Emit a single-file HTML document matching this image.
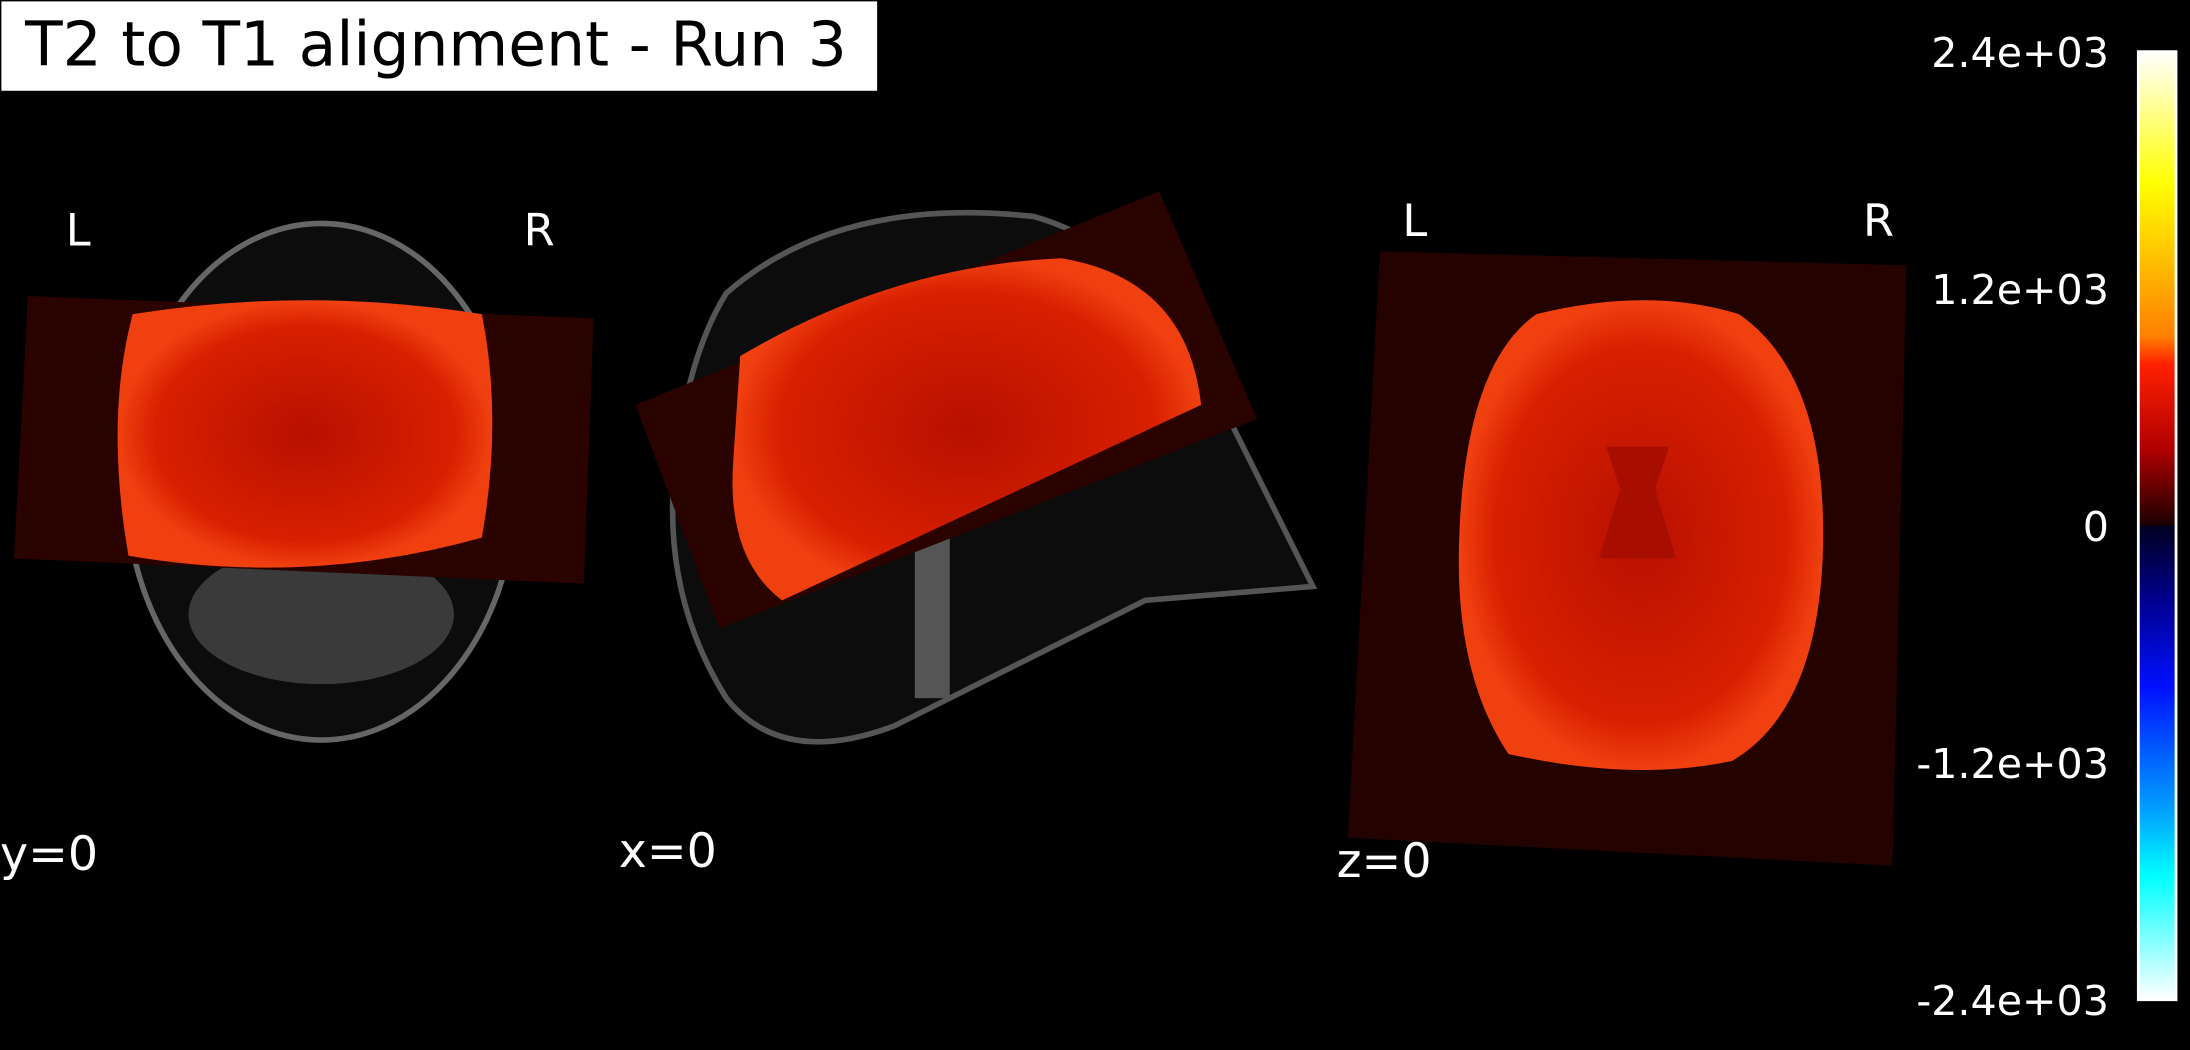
<!DOCTYPE html>
<html><head><meta charset="utf-8"><style>
html,body{margin:0;padding:0;background:#000;}
svg{display:block;}
text{font-family:"DejaVu Sans","Liberation Sans",sans-serif;fill:#fff;}
</style></head>
<body>
<svg id="fig" width="2190" height="1050" viewBox="0 0 1568 752" preserveAspectRatio="none">
<defs>
<linearGradient id="cbg" x1="0" y1="0" x2="0" y2="1">
<stop offset="0" stop-color="#ffffff"/><stop offset="0.14" stop-color="#ffff00"/><stop offset="0.3" stop-color="#ff8000"/>
<stop offset="0.33" stop-color="#ff2000"/><stop offset="0.42" stop-color="#b00000"/><stop offset="0.5" stop-color="#1a0000"/>
<stop offset="0.5" stop-color="#000020"/><stop offset="0.58" stop-color="#000090"/><stop offset="0.67" stop-color="#0010ff"/>
<stop offset="0.8" stop-color="#00a0ff"/><stop offset="0.87" stop-color="#00ffff"/><stop offset="1" stop-color="#ffffff"/>
</linearGradient>
<radialGradient id="brain" cx="0.5" cy="0.5" r="0.5">
<stop offset="0" stop-color="#b81000"/><stop offset="0.8" stop-color="#d82000"/><stop offset="1" stop-color="#f04010"/>
</radialGradient>
</defs>
<rect width="1568" height="752" fill="#000"/>

<g>
<ellipse cx="230" cy="345" rx="140" ry="185" fill="#0c0c0c" stroke="#666" stroke-width="4"/>
<ellipse cx="230" cy="440" rx="95" ry="50" fill="#3a3a3a"/>
<polygon points="20,212 425,228 418,418 10,400" fill="#2a0300"/>
<path d="M95,225 Q220,205 345,225 Q360,300 345,385 Q220,420 92,398 Q75,300 95,225Z" fill="url(#brain)"/>
</g>

<g>
<path d="M520,210 Q600,140 740,155 Q830,180 880,300 L940,420 L820,430 L740,470 L640,520 Q560,550 520,500 Q470,420 485,320 Q495,250 520,210Z" fill="#0c0c0c" stroke="#555" stroke-width="4"/>
<rect x="655" y="380" width="25" height="120" fill="#555"/>
<polygon points="455,290 830,137 900,300 515,450" fill="#2a0300"/>
<path d="M530,255 Q640,190 760,185 Q850,200 860,290 L560,430 Q520,400 525,330Z" fill="url(#brain)"/>
</g>

<g>
<polygon points="988,180 1365,190 1355,620 965,600" fill="#230200"/>
<path d="M1100,225 Q1180,205 1245,225 Q1310,270 1305,400 Q1300,510 1240,545 Q1170,560 1080,540 Q1040,480 1045,380 Q1050,260 1100,225Z" fill="url(#brain)"/>
<path d="M1150,320 L1195,320 L1185,350 L1200,400 L1145,400 L1160,350Z" fill="#a80e00"/>
</g>

<rect x="1" y="1" width="627" height="64" fill="#fff"/>
<text x="18" y="47" font-size="44" style="fill:#000">T2 to T1 alignment - Run 3</text>

<text x="56" y="176" font-size="32" text-anchor="middle">L</text>
<text x="386" y="176" font-size="32" text-anchor="middle">R</text>
<text x="1013" y="169" font-size="32" text-anchor="middle">L</text>
<text x="1345" y="169" font-size="32" text-anchor="middle">R</text>
<text x="0" y="623" font-size="34">y=0</text>
<text x="443" y="621" font-size="34">x=0</text>
<text x="957" y="628" font-size="34">z=0</text>

<rect x="1531" y="37" width="27" height="679" fill="url(#cbg)" stroke="#fff" stroke-width="2"/>
<g id="ticks"></g>
</svg>
<script>
const tickValues = [2400, 1200, 0, -1200, -2400];
const tickLabels = ["2.4e+03", "1.2e+03", "0", "-1.2e+03", "-2.4e+03"];
const vmin = -2400, vmax = 2400;
const cbTop = 37, cbBottom = 716;
function yScale(v){ return cbTop + (vmax - v) / (vmax - vmin) * (cbBottom - cbTop); }
const g = document.getElementById('ticks');
tickValues.forEach((v, i) => {
  const t = document.createElementNS('http://www.w3.org/2000/svg', 'text');
  t.setAttribute('x', 1510);
  t.setAttribute('y', yScale(v) + 11);
  t.setAttribute('font-size', '29.5');
  t.setAttribute('text-anchor', 'end');
  t.textContent = tickLabels[i];
  
  
  g.appendChild(t);
});
</script>
</body></html>
